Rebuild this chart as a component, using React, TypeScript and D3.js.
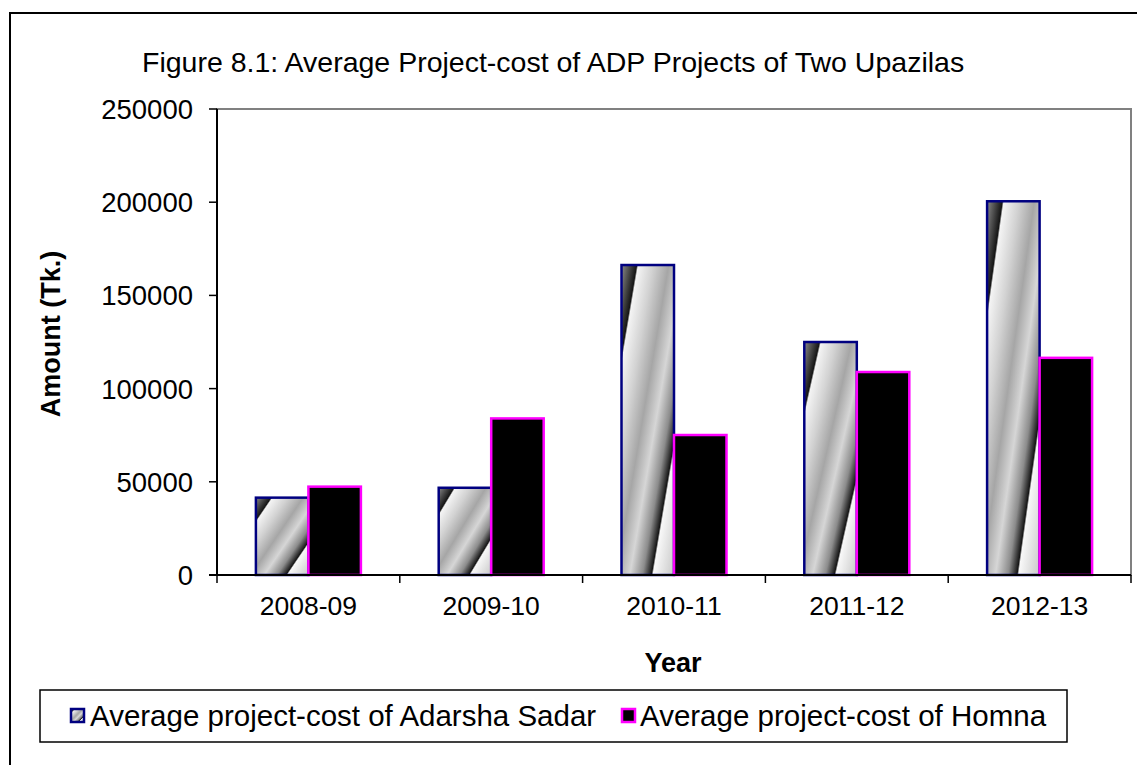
import React from "react";
import * as d3 from "d3";

const TITLE = "Figure 8.1: Average Project-cost of ADP Projects of Two Upazilas";
const categories = ["2008-09", "2009-10", "2010-11", "2011-12", "2012-13"];
const seriesNames = ["Average project-cost of Adarsha Sadar", "Average project-cost of Homna"];
const adarshaSadar = [41500, 46800, 166300, 125000, 200500];
const homna = [47400, 84000, 75100, 108900, 116500];
const yTicks = [0, 50000, 100000, 150000, 200000, 250000];
const yLabel = "Amount (Tk.)";
const xLabel = "Year";

const FONT = "'Liberation Sans', Arial, sans-serif";

export default function App() {
  const W = 1137, H = 765;
  const plot = { left: 217, right: 1131, top: 109, bottom: 575 };
  const x0 = d3.scaleBand<string>().domain(categories).range([plot.left, plot.right]).paddingInner(0).paddingOuter(0);
  const x1 = d3.scaleBand<string>().domain(seriesNames).range([0, x0.step()]).paddingInner(0).paddingOuter(0.741);
  const y = d3.scaleLinear().domain([0, 250000]).range([plot.bottom, plot.top]);
  const data = [adarshaSadar, homna];

  return (
    <svg width={W} height={H} style={{ position: "fixed", left: 0, top: 0, background: "#fff" }} fontFamily={FONT}>
      <defs>
        <linearGradient id="stripe" x1="0" y1="0" x2="1" y2="1">
          <stop offset="0" stopColor="#8a8a8a" />
          <stop offset="0.145" stopColor="#151515" />
          <stop offset="0.16" stopColor="#f4f4f4" />
          <stop offset="0.3" stopColor="#d2d2d2" />
          <stop offset="0.45" stopColor="#a6a6a6" />
          <stop offset="0.58" stopColor="#d6d6d6" />
          <stop offset="0.7" stopColor="#8c8c8c" />
          <stop offset="0.785" stopColor="#151515" />
          <stop offset="0.8" stopColor="#f8f8f8" />
          <stop offset="1" stopColor="#c8c8c8" />
        </linearGradient>
      </defs>
      <rect x={0} y={0} width={W} height={H} fill="#fff" />
      {/* outer chart border */}
      <path d={`M10,${H + 2} L10,13 L${W + 2},13`} fill="none" stroke="#000" strokeWidth={2} />

      <text x={142} y={72} fontSize={28.5} fill="#000">{TITLE}</text>

      {/* plot area border */}
      <rect x={plot.left} y={plot.top} width={plot.right - plot.left} height={plot.bottom - plot.top} fill="#fff" stroke="#808080" strokeWidth={2} />

      {/* bars */}
      {categories.map((c, i) => (
        <g key={c}>
          {data.map((arr, s) => {
            const bx = (x0(c) as number) + (x1(seriesNames[s]) as number);
            const by = y(arr[i]);
            return (
              <rect
                key={s}
                x={bx}
                y={by}
                width={x1.bandwidth()}
                height={y(0) - by}
                fill={s === 0 ? "url(#stripe)" : "#000"}
                stroke={s === 0 ? "#000080" : "#ff00ff"}
                strokeWidth={2.5}
              />
            );
          })}
        </g>
      ))}

      {/* y axis */}
      <line x1={plot.left} y1={plot.top} x2={plot.left} y2={plot.bottom} stroke="#000" strokeWidth={2} />
      {yTicks.map((t) => (
        <g key={t}>
          <line x1={plot.left - 8} x2={plot.left} y1={y(t)} y2={y(t)} stroke="#000" strokeWidth={1.5} />
          <text x={193} y={y(t)} dy="0.36em" textAnchor="end" fontSize={27.5} fill="#000">{t}</text>
        </g>
      ))}

      {/* x axis */}
      <line x1={plot.left - 8} y1={plot.bottom} x2={plot.right} y2={plot.bottom} stroke="#000" strokeWidth={2} />
      {categories.map((c) => (
        <line key={"t" + c} x1={(x0(c) as number) + x0.step()} x2={(x0(c) as number) + x0.step()} y1={plot.bottom} y2={plot.bottom + 8} stroke="#000" strokeWidth={1.5} />
      ))}
      <line x1={plot.left} x2={plot.left} y1={plot.bottom} y2={plot.bottom + 8} stroke="#000" strokeWidth={1.5} />
      {categories.map((c) => (
        <text key={"l" + c} x={(x0(c) as number) + x0.step() / 2} y={615} textAnchor="middle" fontSize={26.5} fill="#000">{c}</text>
      ))}

      <text x={673} y={672} textAnchor="middle" fontSize={27} fontWeight="bold" fill="#000">{xLabel}</text>
      <text transform={`translate(60,${(plot.top + plot.bottom) / 2 - 8}) rotate(-90)`} textAnchor="middle" fontSize={27} fontWeight="bold" fill="#000">{yLabel}</text>

      {/* legend */}
      <rect x={40} y={690} width={1027} height={52} fill="#fff" stroke="#000" strokeWidth={1.5} />
      <rect x={71} y={709} width={13} height={13} fill="url(#stripe)" stroke="#000080" strokeWidth={2.5} />
      <text x={90} y={726} fontSize={29.5} fill="#000">{seriesNames[0]}</text>
      <rect x={622} y={709} width={13} height={13} fill="#000" stroke="#ff00ff" strokeWidth={2.5} />
      <text x={640} y={726} fontSize={29.5} fill="#000">{seriesNames[1]}</text>
    </svg>
  );
}
